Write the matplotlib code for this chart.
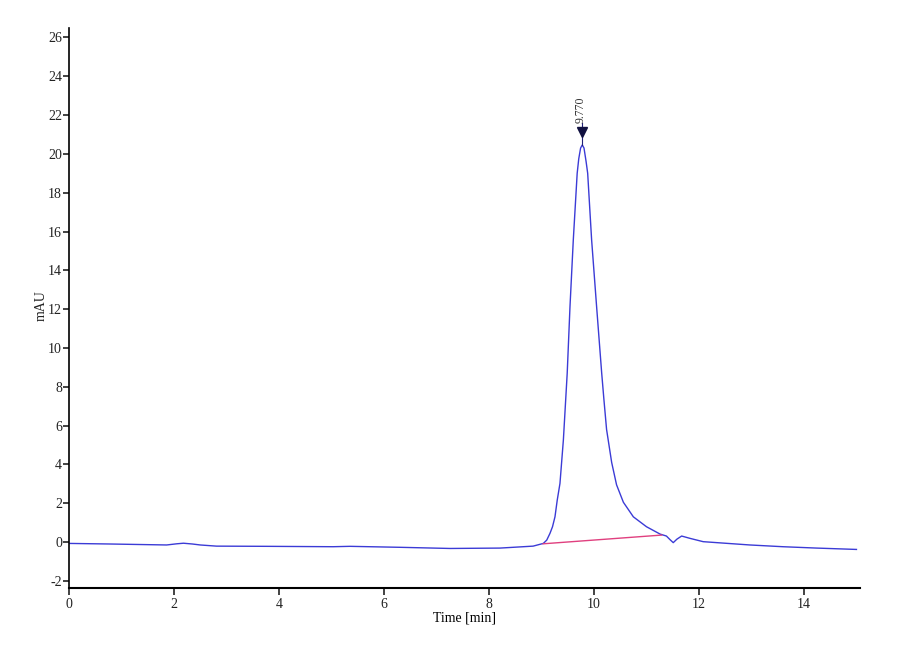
import matplotlib
matplotlib.use("Agg")
import matplotlib.pyplot as plt

# Chromatogram trace (time [min], signal [mAU])
time_min = [0.0, 0.78, 1.86, 2.05, 2.18, 2.35, 2.5, 2.81, 3.77, 5.03, 5.35, 6.3, 7.26, 8.21,
            8.84, 9.035, 9.10, 9.162, 9.21, 9.257, 9.30, 9.352, 9.417, 9.49, 9.543, 9.606,
            9.68, 9.71, 9.745, 9.777, 9.81, 9.85, 9.88, 9.955, 10.05, 10.147, 10.19, 10.24,
            10.337, 10.43, 10.56, 10.75, 11.0, 11.26, 11.38, 11.45, 11.51, 11.58, 11.67,
            11.83, 12.08, 12.34, 12.97, 13.6, 14.24, 15.0]
signal_mau = [-0.07, -0.10, -0.15, -0.09, -0.06, -0.10, -0.15, -0.21, -0.22, -0.24, -0.22,
              -0.27, -0.33, -0.31, -0.21, -0.07, 0.10, 0.45, 0.79, 1.30, 2.16, 3.02, 5.26,
              8.7, 12.13, 15.57, 19.0, 19.75, 20.3, 20.46, 20.3, 19.6, 19.0, 15.57, 12.13,
              8.7, 7.32, 5.8, 4.1, 2.95, 2.05, 1.30, 0.79, 0.41, 0.31, 0.12, -0.03, 0.15,
              0.31, 0.19, 0.02, -0.03, -0.15, -0.24, -0.31, -0.38]

# Integration baseline
baseline_t = [9.03, 11.29]
baseline_v = [-0.09, 0.36]

# Peak annotation
peak_t = 9.777
peak_v = 20.46
peak_label = "9.770"

x_ticks = [0, 2, 4, 6, 8, 10, 12, 14]
y_ticks = [-2, 0, 2, 4, 6, 8, 10, 12, 14, 16, 18, 20, 22, 24, 26]

plt.rcParams['font.family'] = ['Liberation Serif', 'DejaVu Serif']

fig = plt.figure(figsize=(9, 6.6), dpi=100)
ax = fig.add_axes([0.0767, 0.109, 0.879, 0.849])

ax.plot(time_min, signal_mau, color='#3b3bd6', lw=1.0)
ax.plot(baseline_t, baseline_v, color='#e0407f', lw=1.0)

# Peak marker: stem, down-pointing triangle, rotated label
ax.plot([peak_t, peak_t], [peak_v, peak_v + 1.15], color='#20207a', lw=0.8)
ax.plot([peak_t], [peak_v + 0.65], marker='v', markersize=7.5, color='#101040',
        linestyle='none')
ax.text(peak_t - 0.03, peak_v + 1.15, peak_label, rotation=90, ha='center', va='bottom',
        fontsize=8.5, color='#333333')

ax.set_xlim(0, 15.07)
ax.set_ylim(-2.37, 26.5)
ax.set_xticks(x_ticks)
ax.set_yticks(y_ticks)
ax.set_xticklabels([str(v) for v in x_ticks])
ax.set_yticklabels([str(v) for v in y_ticks])

for s in ['top', 'right']:
    ax.spines[s].set_visible(False)
ax.spines['left'].set_linewidth(1.2)
ax.spines['bottom'].set_linewidth(1.5)
ax.tick_params(axis='both', direction='out', length=4, width=1.2, labelsize=10,
               colors='#222222')
ax.tick_params(axis='x', pad=2.5, length=5)
ax.tick_params(axis='y', pad=1)

ax.set_xlabel("Time [min]", fontsize=10, labelpad=0)
fig.text(41.5 / 900, 1 - 306 / 660, "mAU", rotation=90, ha='center', va='center',
         fontsize=10, color='#222222')

fig.savefig("out.png", dpi=100)
